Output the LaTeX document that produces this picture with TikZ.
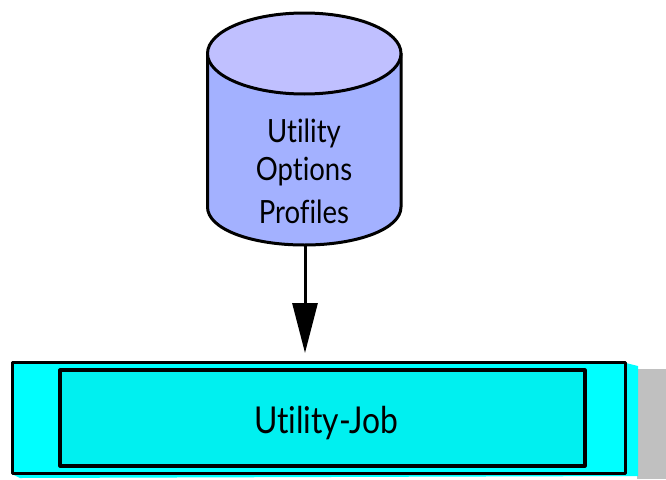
\documentclass[tikz,border=0pt]{standalone}
\usepackage{fontspec}
\setmainfont[FakeStretch=0.86,Ligatures=NoCommon]{Lato}
\usetikzlibrary{arrows.meta}
\definecolor{cyltop}{HTML}{C0C0FF}
\definecolor{cylbody}{HTML}{A3B1FF}
\definecolor{outerc}{HTML}{00FFFF}
\definecolor{innerc}{HTML}{00F0F0}
\definecolor{shadowc}{HTML}{C0C0C0}
\tikzset{
  ln/.style={draw=black,line width=3pt,line join=round},
  lbl/.style={inner sep=0pt,text=black,font=\fontsize{32pt}{34pt}\selectfont},
  boxn/.style={ln,inner sep=0pt,anchor=center}
}
\begin{document}
\begin{tikzpicture}[x=1pt,y=-1pt]
\useasboundingbox (0,0) rectangle (666,479);
% shadows
\fill[shadowc] (637,369) rectangle (666,479);
\fill[outerc] (14,365) -- (626,363) -- (638,366) -- (638,476) -- (20,478) -- (12,474) -- cycle;
% cylinder
\fill[cylbody] (207.5,53) -- (207.5,207) .. controls (207.5,229) and (251,245) .. (304.25,245) .. controls (357.5,245) and (401,229) .. (401,207) -- (401,53) -- cycle;
\draw[ln] (207.5,53) -- (207.5,207) .. controls (207.5,229) and (251,245) .. (304.25,245) .. controls (357.5,245) and (401,229) .. (401,207) -- (401,53);
\draw[ln,fill=cyltop] (304.25,53.5) ellipse [x radius=96.75,y radius=40.5];
\node[inner sep=0pt,minimum width=193.5pt,minimum height=232pt] (db) at (304.25,129) {};
\node[lbl] (t1) at (304,133) {Utility};
\node[lbl] (t2) at (304,172) {Options};
\node[lbl] (t3) at (304,212) {Profiles};
% boxes
\node[boxn,fill=outerc,minimum width=613pt,minimum height=111pt] (job) at (318.5,418) {};
\node[boxn,line width=3.2pt,fill=innerc,minimum width=525pt,minimum height=96pt] (inner) at (322.5,418) {};
\node[lbl,font=\fontsize{37pt}{40pt}\selectfont] (jl) at (326,423) {Utility-Job};
% arrow
\coordinate (tip) at (305,353);
\draw[line width=3pt,-{Triangle[length=50pt,width=25pt,fill=black]}] (db.south -| tip) -- (tip);
\end{tikzpicture}
\end{document}
